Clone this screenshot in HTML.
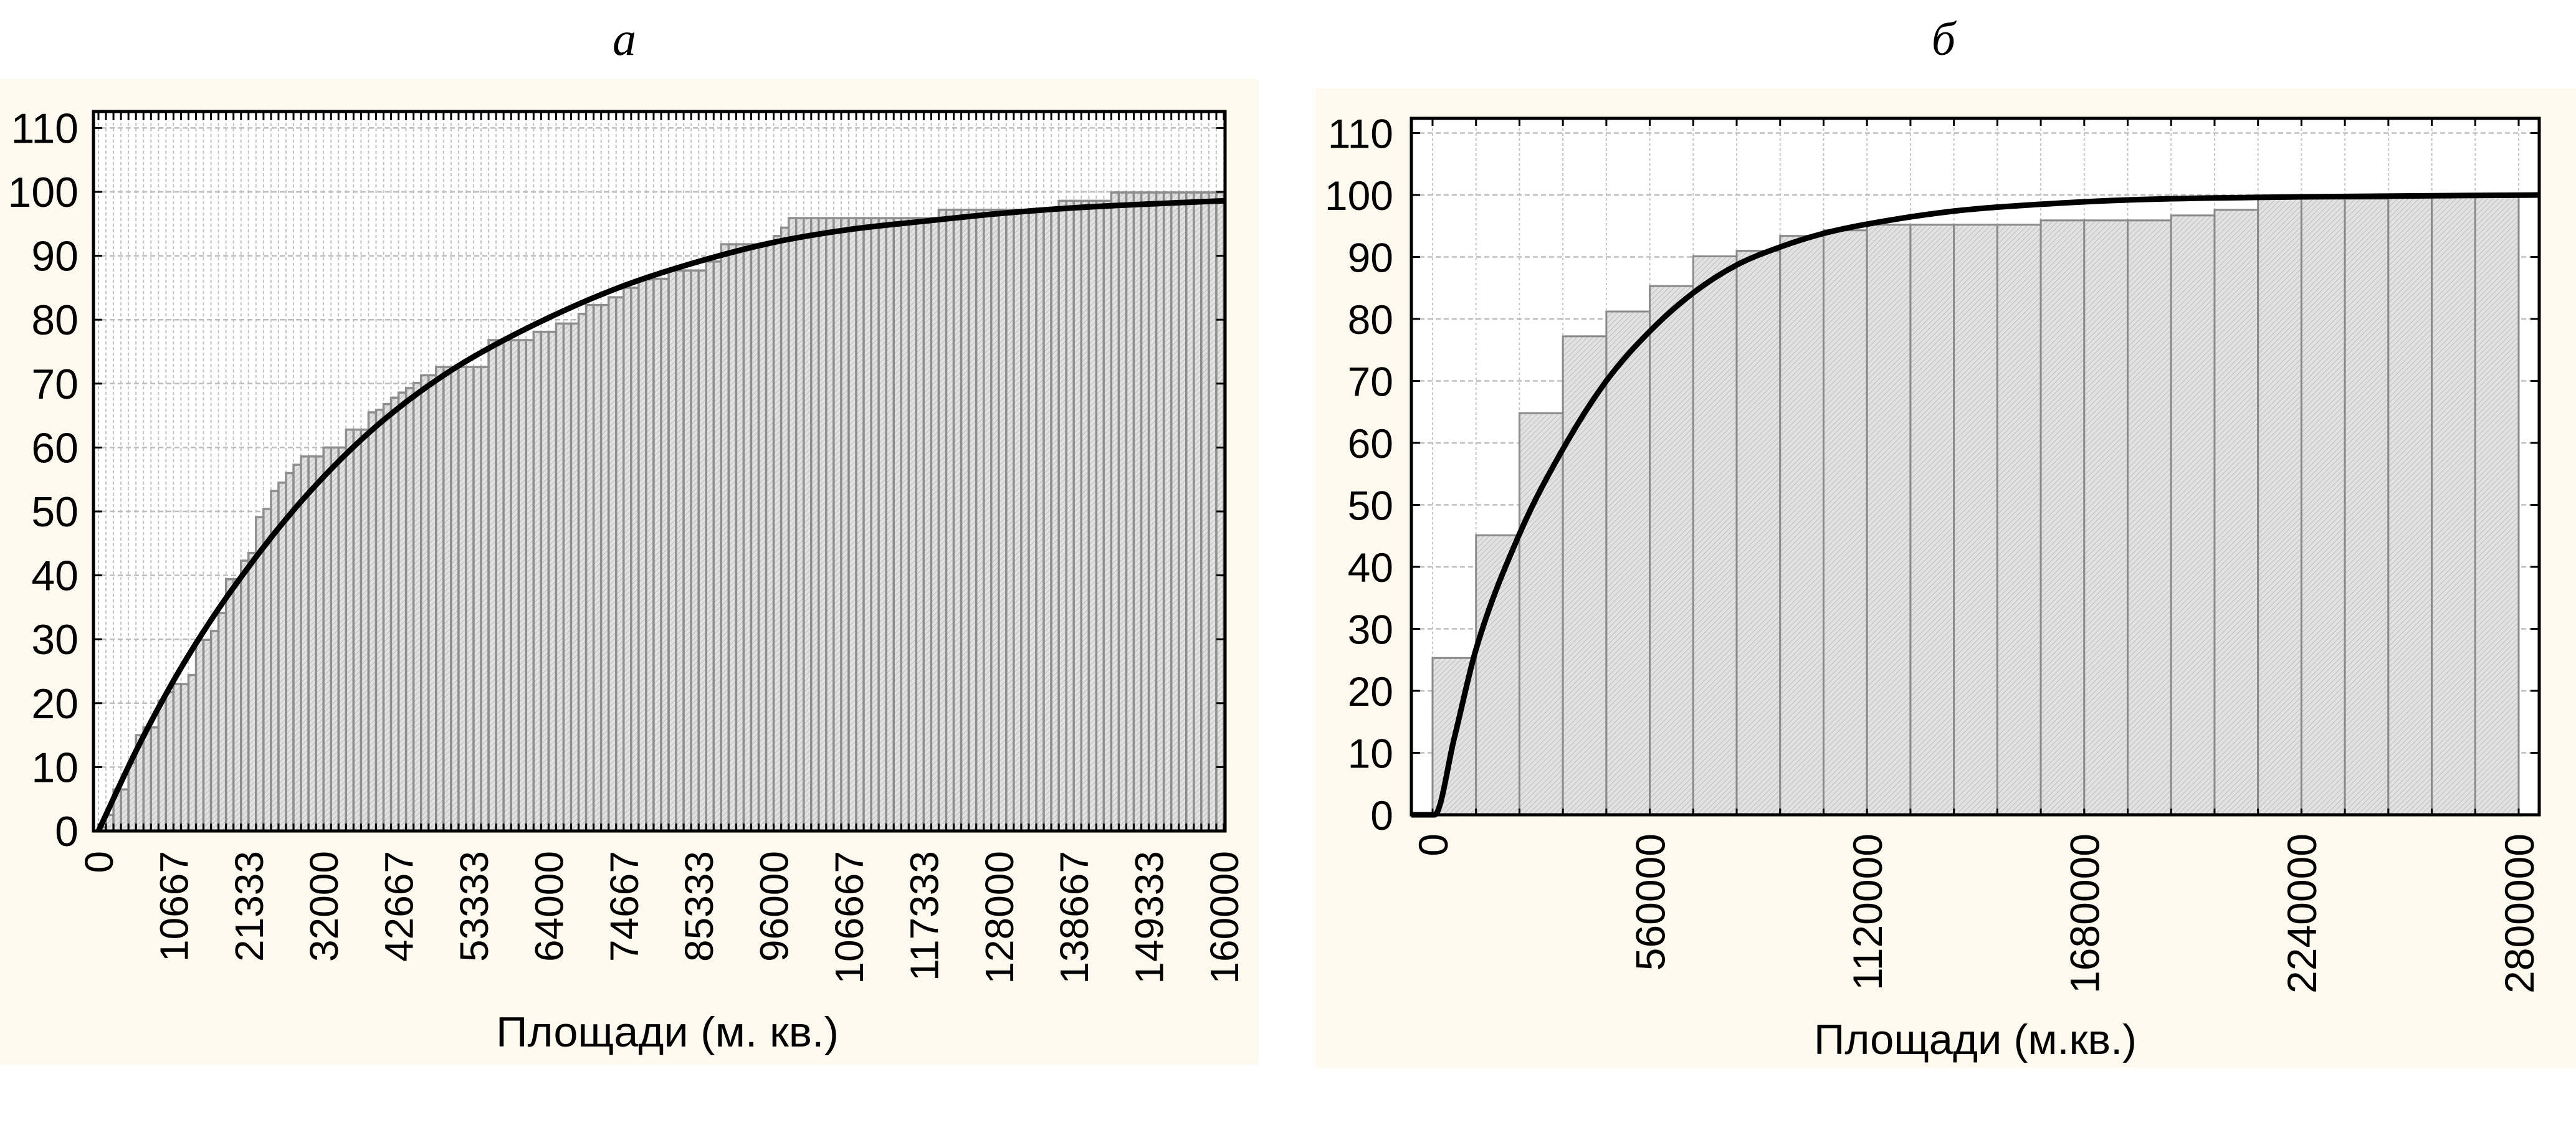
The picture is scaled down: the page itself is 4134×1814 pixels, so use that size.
<!DOCTYPE html>
<html><head><meta charset="utf-8"><style>
html,body{margin:0;padding:0;background:#fff;}
svg{display:block;font-family:"Liberation Sans",sans-serif;}
</style></head><body>
<svg id="fig" width="4134" height="1814" viewBox="0 0 4134 1814" xmlns="http://www.w3.org/2000/svg">
<defs>
<pattern id="hatch" width="6" height="6" patternUnits="userSpaceOnUse" patternTransform="rotate(45)">
<rect width="6" height="6" fill="#e2e2e2"/><line x1="0" y1="0" x2="0" y2="6" stroke="#b4b4b4" stroke-width="1.6"/>
</pattern>
</defs>
<rect x="0" y="127" width="2020" height="1582" fill="#fdf9ee"/>
<rect x="2111" y="142" width="2023" height="1572" fill="#fdf9ee"/>
<text x="1002" y="88" font-family="Liberation Serif, serif" font-style="italic" font-size="76" text-anchor="middle">а</text>
<text x="3119" y="88" font-family="Liberation Serif, serif" font-style="italic" font-size="76" text-anchor="middle">б</text>
<g id="left"></g>
<g id="right"></g>
</svg>
<script>
// ---- left chart data ----
const leftBarValues = [0.6,2.5,6.5,6.5,10.7,15,16.2,16.2,20.4,21.7,23,23,24.4,29.9,29.9,31.3,34.1,39.4,39.4,42.3,
43.5,49.1,50.4,53.2,54.5,56,57.3,58.6,58.6,58.6,60,60,60,62.8,62.8,62.8,65.5,65.9,66.8,67.8,
68.6,69.3,70.1,71.3,71.3,72.6,72.6,72.6,72.6,72.6,72.6,72.6,76.8,76.8,76.8,76.8,76.8,76.8,78.1,78.1,
78.1,79.4,79.4,79.4,80.9,82.3,82.3,82.3,83.5,83.5,85,85,86.3,86.3,86.4,86.4,87.7,87.7,87.7,87.7,
87.7,89.1,89.1,91.8,91.8,91.8,91.8,91.8,91.8,91.8,93.1,94.4,95.9,95.9,95.9,95.9,95.9,95.9,95.9,95.9,
95.9,95.9,95.9,95.9,95.9,95.9,95.9,95.9,95.9,95.9,95.9,95.9,97.2,97.2,97.2,97.2,97.2,97.2,97.2,97.2,
97.2,97.2,97.2,97.2,97.2,97.2,97.2,97.2,98.6,98.6,98.6,98.6,98.6,98.6,98.6,99.9,99.9,99.9,99.9,99.9,
99.9,99.9,99.9,99.9,99.9,99.9,99.9,99.9,99.9,99.9];
const leftBinWidth = 1066.667;
const leftCurveX = [0,5333,10667,16000,21333,26667,32000,37333,42667,48000,53333,64000,74667,85333,96000,106667,117333,128000,138667,149333,160000];
const leftCurveY = [0,12.5,23.5,33,41.3,48.8,55.4,61.2,66.2,70.5,74.2,80.3,85.3,89.1,92.1,94.1,95.4,96.6,97.5,98.1,98.6];
const leftXTicks = [0,10667,21333,32000,42667,53333,64000,74667,85333,96000,106667,117333,128000,138667,149333,160000];
const leftXTickLabels = ["0","10667","21333","32000","42667","53333","64000","74667","85333","96000","106667","117333","128000","138667","149333","160000"];
const leftYTicks = [0,10,20,30,40,50,60,70,80,90,100,110];
// ---- right chart data ----
const rightBarValues = [25.3,45.1,64.8,77.2,81.2,85.3,90.1,91,93.4,94.3,95.2,95.2,95.2,95.2,95.9,95.9,95.9,96.7,97.6,99.4,99.4,99.4,99.8,99.8,99.8];
const rightBinWidth = 112000;
const rightCurveX = [-55000,5000,56000,112000,224000,336000,448000,560000,672000,784000,896000,1008000,1120000,1344000,1568000,1792000,2240000,2855000];
const rightCurveY = [0,0,12.4,26.7,45.3,59,70,78,84.2,88.7,91.6,93.8,95.3,97.4,98.5,99.2,99.7,100];
const rightXTicks = [0,560000,1120000,1680000,2240000,2800000];
const rightXTickLabels = ["0","560000","1120000","1680000","2240000","2800000"];
const rightYTicks = [0,10,20,30,40,50,60,70,80,90,100,110];

const NS="http://www.w3.org/2000/svg";
function mk(tag,attrs,parent){const e=document.createElementNS(NS,tag);for(const k in attrs)e.setAttribute(k,attrs[k]);parent.appendChild(e);return e;}
function smooth(p){const n=p.length,d=[],m=[];
  for(let i=0;i<n-1;i++)d.push((p[i+1][1]-p[i][1])/(p[i+1][0]-p[i][0]));
  m[0]=d[0];m[n-1]=d[n-2];
  for(let i=1;i<n-1;i++){m[i]=(d[i-1]*d[i]<=0)?0:(d[i-1]+d[i])/2;}
  for(let i=0;i<n-1;i++){if(d[i]===0){m[i]=0;m[i+1]=0;continue;}const a=m[i]/d[i],b=m[i+1]/d[i],s=a*a+b*b;
    if(s>9){const t=3/Math.sqrt(s);m[i]=t*a*d[i];m[i+1]=t*b*d[i];}}
  let s="M"+p[0][0]+","+p[0][1];
  for(let i=0;i<n-1;i++){const h=(p[i+1][0]-p[i][0])/3;
    s+=" C"+(p[i][0]+h)+","+(p[i][1]+m[i]*h)+" "+(p[i+1][0]-h)+","+(p[i+1][1]-m[i+1]*h)+" "+p[i+1][0]+","+p[i+1][1];}
  return s;}

function chart(g,cfg){
  const {fx0,fx1,fy0,fy1,xs,ys}=cfg;
  mk('rect',{x:fx0,y:fy0,width:fx1-fx0,height:fy1-fy0,fill:'#fff'},g);
  const grid=mk('g',{},g);
  
  
  for(let i=0;i<=cfg.bars.length;i++){const x=xs(i*cfg.bw);
    const l=mk('line',{x1:x,x2:x,y1:fy0,y2:fy1,stroke:'#c4c4c4','stroke-width':cfg.vgw,'stroke-dasharray':cfg.vdash},grid);
    
    }
  cfg.yt.forEach(v=>{const y=ys(v);
    const l=mk('line',{x1:fx0,x2:fx1,y1:y,y2:y,stroke:'#bdbdbd','stroke-width':2.5,'stroke-dasharray':'8 5'},grid);
    
    });
  const bg=mk('g',{},g);
  
  
  cfg.bars.forEach((v,i)=>{const x0=xs(i*cfg.bw),x1=xs((i+1)*cfg.bw),y=ys(v);
    const r=mk('rect',{x:x0,y:y,width:x1-x0,height:ys(0)-y,fill:'url(#hatch)',stroke:cfg.bstroke,'stroke-width':cfg.bsw},bg);
    
    });
  const pts=cfg.cx.map((x,i)=>[xs(x),ys(cfg.cy[i])]);
  const c=mk('path',{d:smooth(pts),fill:'none',stroke:'#000','stroke-width':9,'stroke-linejoin':'round'},g);
  
  
  const tk=mk('g',{stroke:'#000','stroke-width':3},g);
  
  
  for(let i=0;i<=cfg.bars.length;i++){const x=xs(i*cfg.bw);
    mk('line',{x1:x,x2:x,y1:fy0,y2:fy0+(cfg.minorTicks?14:12)},tk);mk('line',{x1:x,x2:x,y1:fy1,y2:fy1-(cfg.minorTicks?12:10)},tk);}
  cfg.yt.forEach(v=>{const y=ys(v);mk('line',{x1:fx0,x2:fx0+14,y1:y,y2:y},tk);mk('line',{x1:fx1,x2:fx1-14,y1:y,y2:y},tk);});
  mk('rect',{x:fx0,y:fy0,width:fx1-fx0,height:fy1-fy0,fill:'none',stroke:'#000','stroke-width':5},g);
  cfg.yt.forEach(v=>{const t=mk('text',{x:cfg.ylx,y:ys(v)+24,'font-size':cfg.yfs,'text-anchor':'end'},g);t.textContent=String(v);
    
    });
  cfg.xt.forEach((v,i)=>{const x=xs(v);const t=mk('text',{x:0,y:0,'font-size':cfg.xfs,'text-anchor':'end',transform:`translate(${x+cfg.xfs*0.36},${cfg.xly}) rotate(-90)`},g);
    t.textContent=cfg.xl[i];
    
    });
  const at=mk('text',{x:cfg.tx,y:cfg.ty,'font-size':68,'text-anchor':'middle',textLength:cfg.tw,lengthAdjust:'spacingAndGlyphs'},g);
  at.textContent=cfg.title;
  
  
}
chart(document.getElementById('left'),{fx0:150,fx1:1966,fy0:179,fy1:1334,
  xs:v=>158+v/160000*(1964-158),ys:v=>1334-v*10.26,bars:leftBarValues,bw:leftBinWidth,
  cx:leftCurveX,cy:leftCurveY,yt:leftYTicks,xt:leftXTicks,xl:leftXTickLabels,
  vgw:2,vdash:'5 4',bstroke:'#8e8e8e',bsw:3.5,minorTicks:true,ylx:126,yfs:68,xfs:64,xly:1366,
  tx:1071,ty:1680,tw:550,title:'Площади (м. кв.)'});
chart(document.getElementById('right'),{fx0:2265,fx1:4075,fy0:190,fy1:1308,
  xs:v=>2299+v/2800000*(4042-2299),ys:v=>1308-v*9.95,bars:rightBarValues,bw:rightBinWidth,
  cx:rightCurveX,cy:rightCurveY,yt:rightYTicks,xt:rightXTicks,xl:rightXTickLabels,
  vgw:2,vdash:'4 4',bstroke:'#8a8a8a',bsw:3,minorTicks:false,ylx:2236,yfs:66,xfs:66,xly:1338,
  tx:3170,ty:1692,tw:518,title:'Площади (м.кв.)'});
</script>
</body></html>
